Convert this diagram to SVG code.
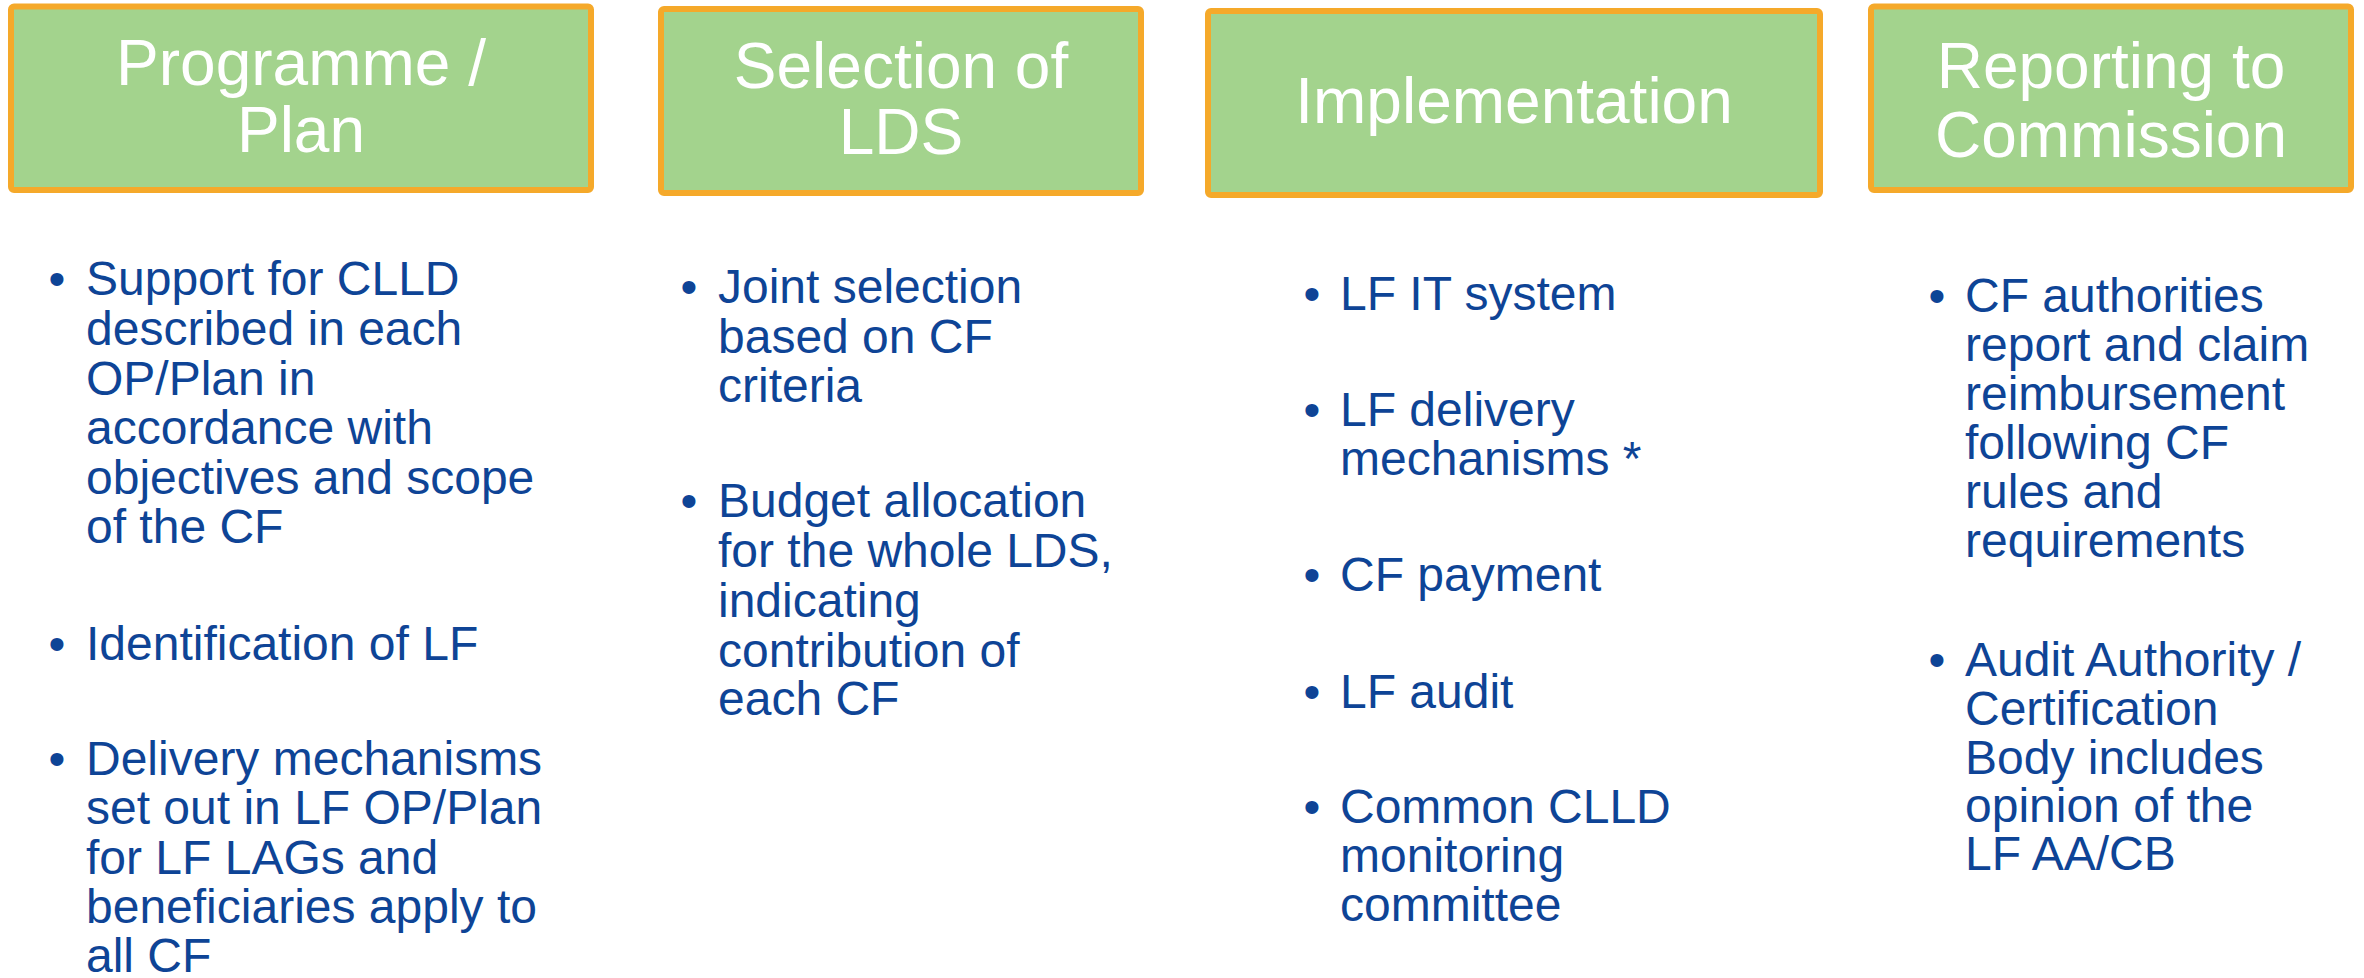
<svg xmlns="http://www.w3.org/2000/svg" width="2364" height="978" viewBox="0 0 2364 978">
<style>
.box{fill:#A3D38D;stroke:#F5A92A;stroke-width:6}
.hd{font-family:"Liberation Sans",Arial,sans-serif;font-size:64px;fill:#FFFFFF;text-anchor:middle}
.bd{font-family:"Liberation Sans",Arial,sans-serif;font-size:48px;fill:#0E4496}
</style>
<rect width="2364" height="978" fill="#FFFFFF"/>
<g id="node-programme">
<rect class="box" x="11" y="6.5" width="580" height="183.5" rx="3"/>
<text class="hd" x="301" y="85">Programme /</text>
<text class="hd" x="301" y="152">Plan</text>
</g>
<g id="node-selection">
<rect class="box" x="661" y="9" width="480" height="184" rx="3"/>
<text class="hd" x="901" y="88">Selection of</text>
<text class="hd" x="901" y="154">LDS</text>
</g>
<g id="node-implementation">
<rect class="box" x="1208" y="11" width="612" height="184" rx="3"/>
<text class="hd" x="1514" y="123">Implementation</text>
</g>
<g id="node-reporting">
<rect class="box" x="1871" y="6.5" width="480" height="183.5" rx="3"/>
<text class="hd" x="2111" y="88">Reporting to</text>
<text class="hd" x="2111" y="157">Commission</text>
</g>
<g id="list-programme" class="bd">
<text x="48.6" y="295">•</text>
<text x="86" y="295">Support for CLLD</text>
<text x="86" y="345">described in each</text>
<text x="86" y="395">OP/Plan in</text>
<text x="86" y="444">accordance with</text>
<text x="86" y="494">objectives and scope</text>
<text x="86" y="543">of the CF</text>
<text x="48.6" y="660">•</text>
<text x="86" y="660">Identification of LF</text>
<text x="48.6" y="775">•</text>
<text x="86" y="775">Delivery mechanisms</text>
<text x="86" y="824">set out in LF OP/Plan</text>
<text x="86" y="874">for LF LAGs and</text>
<text x="86" y="923">beneficiaries apply to</text>
<text x="86" y="972">all CF</text>
</g>
<g id="list-selection" class="bd">
<text x="680.6" y="303">•</text>
<text x="718" y="303">Joint selection</text>
<text x="718" y="353">based on CF</text>
<text x="718" y="402">criteria</text>
<text x="680.6" y="517">•</text>
<text x="718" y="517">Budget allocation</text>
<text x="718" y="567">for the whole LDS,</text>
<text x="718" y="617">indicating</text>
<text x="718" y="667">contribution of</text>
<text x="718" y="715">each CF</text>
</g>
<g id="list-implementation" class="bd">
<text x="1303.6" y="310">•</text>
<text x="1340" y="310">LF IT system</text>
<text x="1303.6" y="426">•</text>
<text x="1340" y="426">LF delivery</text>
<text x="1340" y="475">mechanisms *</text>
<text x="1303.6" y="591">•</text>
<text x="1340" y="591">CF payment</text>
<text x="1303.6" y="708">•</text>
<text x="1340" y="708">LF audit</text>
<text x="1303.6" y="823">•</text>
<text x="1340" y="823">Common CLLD</text>
<text x="1340" y="872">monitoring</text>
<text x="1340" y="921">committee</text>
</g>
<g id="list-reporting" class="bd">
<text x="1928.6" y="312">•</text>
<text x="1965" y="312">CF authorities</text>
<text x="1965" y="361">report and claim</text>
<text x="1965" y="410">reimbursement</text>
<text x="1965" y="459">following CF</text>
<text x="1965" y="508">rules and</text>
<text x="1965" y="557">requirements</text>
<text x="1928.6" y="676">•</text>
<text x="1965" y="676">Audit Authority /</text>
<text x="1965" y="725">Certification</text>
<text x="1965" y="774">Body includes</text>
<text x="1965" y="822">opinion of the</text>
<text x="1965" y="870">LF AA/CB</text>
</g>
<g id="connectors"></g>
</svg>
